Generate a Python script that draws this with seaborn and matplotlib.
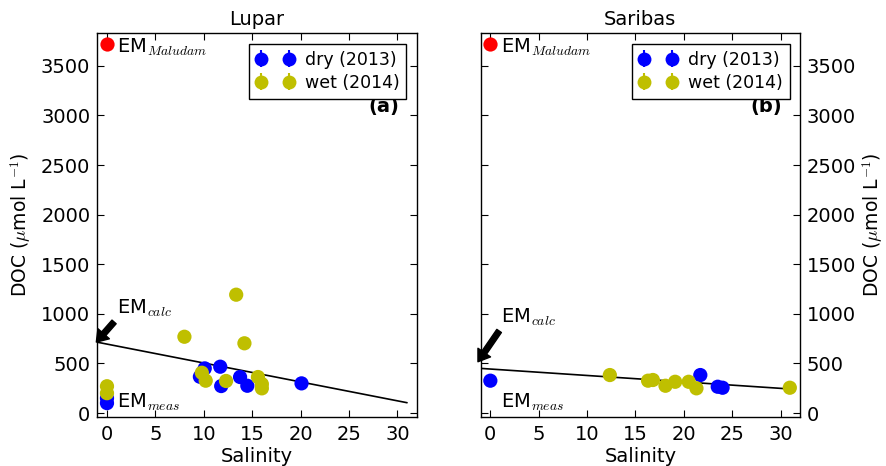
import numpy as np
import pandas as pd
import matplotlib
matplotlib.use("Agg")
import matplotlib.pyplot as plt
import seaborn as sns

# ---------------- data ----------------
lupar_dry_sal = [0, 0, 9.6, 10.1, 11.7, 11.8, 13.75, 14.5, 20.1]
lupar_dry_doc = [100, 150, 366, 450, 467, 272, 363, 275, 299]
lupar_wet_sal = [0, 0, 8.0, 13.35, 14.2, 9.8, 10.2, 12.3, 15.6, 16.0, 16.0]
lupar_wet_doc = [200, 270, 769, 1193, 703, 406, 326, 323, 363, 292, 249]

saribas_dry_sal = [0, 21.7, 23.5, 24.0]
saribas_dry_doc = [326, 383, 265, 255]
saribas_wet_sal = [12.35, 16.3, 16.8, 18.1, 19.1, 20.5, 21.3, 30.95]
saribas_wet_doc = [383, 326, 333, 275, 315, 315, 249, 255]

maludam_sal = [0]
maludam_doc = [3725]

lupar_mix_sal = [-1, 31]
lupar_mix_doc = [714, 104]
saribas_mix_sal = [-1, 31.5]
saribas_mix_doc = [450, 239]

lupar_calc_point = (-1.1, 715)
saribas_calc_point = (-1.28, 517)

season_labels = ["dry (2013)", "wet (2014)"]
x_ticks = [0, 5, 10, 15, 20, 25, 30]
y_ticks = [0, 500, 1000, 1500, 2000, 2500, 3000, 3500]

# ---------------- style ----------------
sns.set_theme(style="white")
plt.rcParams.update({
    "font.family": ["DejaVu Sans"],
    "mathtext.fontset": "cm",
    "mathtext.default": "it",
    "font.size": 14,
    "axes.linewidth": 1.0,
    "axes.edgecolor": "black",
    "xtick.direction": "in",
    "ytick.direction": "in",
    "xtick.major.size": 5,
    "ytick.major.size": 5,
    "xtick.major.width": 0.8,
    "ytick.major.width": 0.8,
    "xtick.color": "black",
    "ytick.color": "black",
    "xtick.labelsize": 14,
    "ytick.labelsize": 14,
    "xtick.major.pad": 6,
    "ytick.major.pad": 5,
    "text.color": "black",
    "axes.labelcolor": "black",
})

BLUE = "#0000ff"
YEL = (0.75, 0.75, 0.0)
RED = "#ff0000"

fig = plt.figure(figsize=(8.87, 4.66), dpi=100)
ax1 = fig.add_axes([0.1097, 0.1058, 0.3601, 0.8227])
ax2 = fig.add_axes([0.5419, 0.1058, 0.3600, 0.8227])


def make_df(dsal, ddoc, wsal, wdoc):
    return pd.DataFrame({
        "Salinity": list(dsal) + list(wsal),
        "DOC": list(ddoc) + list(wdoc),
        "season": [season_labels[0]] * len(dsal) + [season_labels[1]] * len(wsal),
    })


panels = [
    (ax1, make_df(lupar_dry_sal, lupar_dry_doc, lupar_wet_sal, lupar_wet_doc),
     lupar_mix_sal, lupar_mix_doc, lupar_calc_point, "Lupar", "(a)",
     (1.03, 1005), (1.03, 50), (1.03, 3636)),
    (ax2, make_df(saribas_dry_sal, saribas_dry_doc, saribas_wet_sal, saribas_wet_doc),
     saribas_mix_sal, saribas_mix_doc, saribas_calc_point, "Saribas", "(b)",
     (1.14, 914), (1.14, 50), (1.14, 3636)),
]

for ax, df, msal, mdoc, cpt, title, tag, calc_pos, meas_pos, mal_pos in panels:
    sns.lineplot(x=msal, y=mdoc, color="black", linewidth=1.2, ax=ax, zorder=2)
    sns.scatterplot(data=df, x="Salinity", y="DOC", hue="season",
                    palette={season_labels[0]: BLUE, season_labels[1]: YEL},
                    s=105, linewidth=0, legend=False, ax=ax, zorder=3)
    sns.scatterplot(x=maludam_sal, y=maludam_doc, color=RED, s=105,
                    linewidth=0, ax=ax, zorder=3)

    # legend proxies in errorbar style
    h1 = ax.errorbar([np.nan], [np.nan], yerr=[1], fmt="o", color=BLUE, ms=10,
                     capsize=4, mew=0, label=season_labels[0])
    h2 = ax.errorbar([np.nan], [np.nan], yerr=[1], fmt="o", color=YEL, ms=10,
                     capsize=4, mew=0, label=season_labels[1])
    leg = ax.legend(handles=[h1, h2], loc="upper right", numpoints=2,
                    fontsize=12.5, fancybox=False, framealpha=1,
                    edgecolor="black", borderaxespad=0.6,
                    handletextpad=0.6, borderpad=0.4, labelspacing=0.3,
                    handlelength=2.2)
    leg.get_frame().set_linewidth(1.0)

    ax.annotate("EM$_{calc}$", xy=cpt, xytext=calc_pos, fontsize=14,
                annotation_clip=False,
                arrowprops=dict(facecolor="black", edgecolor="black",
                                width=4, headwidth=11, headlength=8, shrink=0.0))
    ax.text(meas_pos[0], meas_pos[1], "EM$_{meas}$", fontsize=14, va="baseline")
    ax.text(mal_pos[0], mal_pos[1], "EM$_{Maludam}$", fontsize=14, va="baseline")
    ax.text(0.945, 0.81, tag, transform=ax.transAxes, ha="right", va="center",
            fontsize=14, fontweight="bold")

    ax.set_xlim(-1, 32)
    ax.set_ylim(-37, 3828)
    ax.set_xticks(x_ticks)
    ax.set_yticks(y_ticks)
    ax.set_title(title, fontsize=14, pad=6)
    ax.set_xlabel("Salinity", fontsize=14, labelpad=2)
    ax.tick_params(top=True, bottom=True, left=True, right=True)
    for sp in ax.spines.values():
        sp.set_visible(True)
        sp.set_color("black")

ax1.set_ylabel("DOC ($\\mu$mol L$^{-1}$)", fontsize=13.5, labelpad=6)
ax2.set_ylabel("DOC ($\\mu$mol L$^{-1}$)", fontsize=13.5, labelpad=3)
ax2.yaxis.set_label_position("right")
ax2.tick_params(axis="y", labelleft=False, labelright=True)

fig.savefig("out.png", dpi=100, facecolor="white")
